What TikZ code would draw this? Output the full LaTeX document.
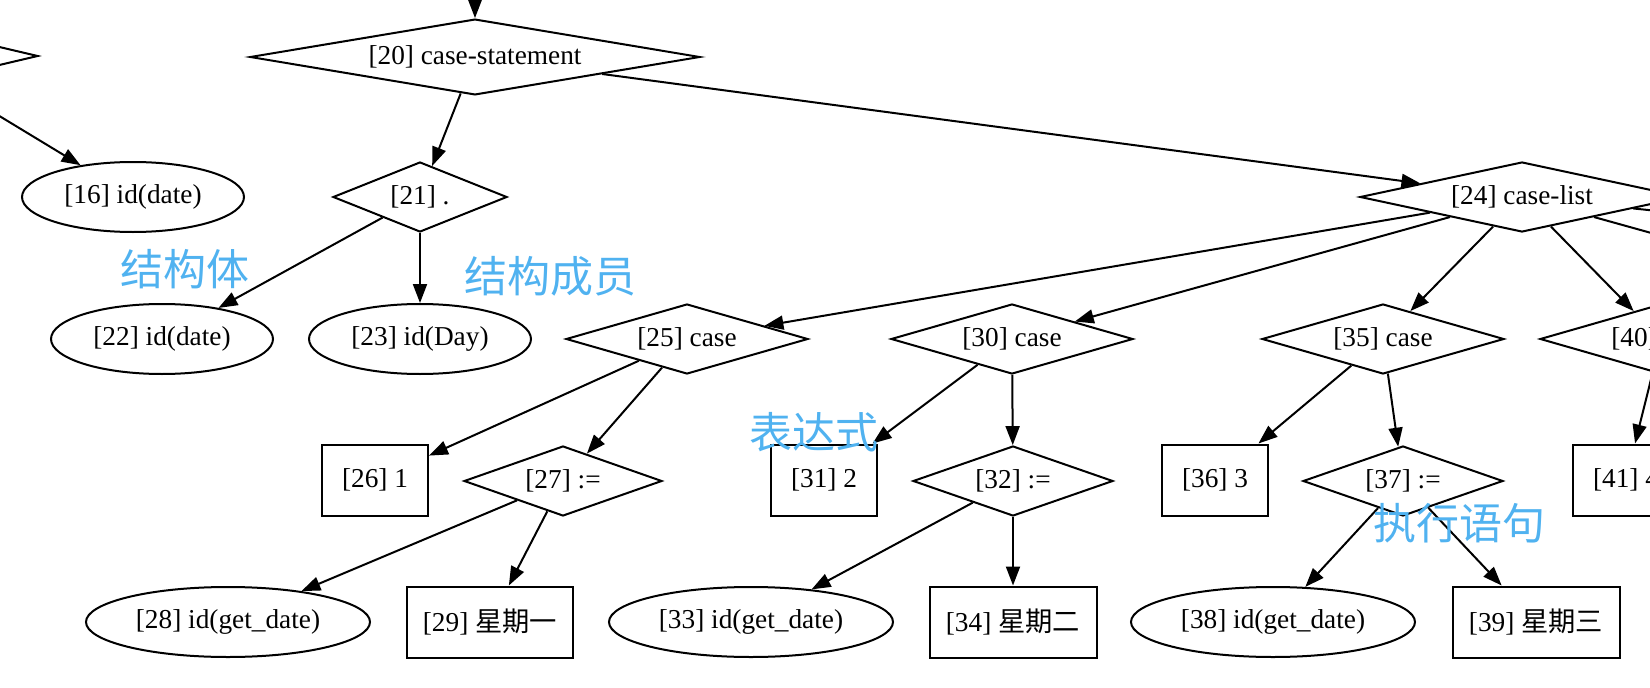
\documentclass[tikz,border=0pt]{standalone}
\usepackage{fontspec}
\setmainfont{Liberation Serif}
\newfontfamily\cjk{Noto Sans CJK SC}
\usetikzlibrary{shapes.geometric,arrows.meta}
\definecolor{annoblue}{RGB}{80,178,240}
\begin{document}
\begin{tikzpicture}[x=1pt,y=-1pt,
  every node/.style={font=\fontsize{27.3}{32}\selectfont, inner sep=0pt, line width=2pt},
  dia/.style={draw, diamond, aspect=4, minimum height=70pt},
  ell/.style={draw, ellipse, minimum height=70pt},
  box/.style={draw, rectangle, minimum height=71pt},
  edge/.style={line width=2pt, -{Triangle[length=19pt,width=14pt]}},
  anno/.style={font=\cjk\fontsize{43}{48}\selectfont, text=annoblue}
]
\useasboundingbox (0,0) rectangle (1650,688);
\clip (0,0) rectangle (1650,688);

% nodes
\node[dia, minimum width=290pt, minimum height=69pt] (n15) at (-107,56) {};
\node[dia, minimum width=450pt, minimum height=69pt] (n20) at (475,57) {[20] case-statement};
\node[ell, minimum width=222pt] (n16) at (133,197) {[16] id(date)};
\node[dia, minimum width=174pt] (n21) at (420,197) {[21] .};
\node[dia, minimum width=324pt] (n24) at (1522,197) {[24] case-list};
\node[ell, minimum width=222pt] (n22) at (162,339) {[22] id(date)};
\node[ell, minimum width=222pt] (n23) at (420,339) {[23] id(Day)};
\node[dia, minimum width=242pt] (n25) at (687,339) {[25] case};
\node[dia, minimum width=242pt] (n30) at (1012,339) {[30] case};
\node[dia, minimum width=242pt] (n35) at (1383,339) {[35] case};
\node[dia, minimum width=242pt] (n40) at (1661,339) {[40] case};
\node[box, minimum width=106pt] (n26) at (375,480) {[26] 1};
\node[dia, minimum width=198pt] (n27) at (563,481) {[27] :=};
\node[box, minimum width=106pt] (n31) at (824,480) {[31] 2};
\node[dia, minimum width=200pt] (n32) at (1013,481) {[32] :=};
\node[box, minimum width=106pt] (n36) at (1215,480) {[36] 3};
\node[dia, minimum width=200pt] (n37) at (1403,481) {[37] :=};
\node[box, minimum width=106pt] (n41) at (1626,480) {[41] 4};
\node[ell, minimum width=284pt] (n28) at (228,622) {[28] id(get\_date)};
\node[box, minimum width=166pt] (n29) at (490,622) {[29] {\cjk 星期一}};
\node[ell, minimum width=284pt] (n33) at (751,622) {[33] id(get\_date)};
\node[box, minimum width=167pt] (n34) at (1013,622) {[34] {\cjk 星期二}};
\node[ell, minimum width=284pt] (n38) at (1273,622) {[38] id(get\_date)};
\node[box, minimum width=167pt] (n39) at (1536,622) {[39] {\cjk 星期三}};

% free ends
\coordinate (top20) at (475,-30);
\coordinate (l16) at (-60,80);
\coordinate (r45) at (2032,339);
\coordinate (r50) at (2900,339);

% edges
\draw[edge] (top20) -- (n20);
\draw[edge] (l16) -- (n16);
\draw[edge] (n20) -- (n21);
\draw[edge] (n20) -- (n24);
\draw[edge] (n21) -- (n22);
\draw[edge] (n21) -- (n23);
\draw[edge] (n24) -- (n25);
\draw[edge] (n24) -- (n30);
\draw[edge] (n24) -- (n35);
\draw[edge] (n24) -- (n40);
\draw[edge] (n24) -- (r45);
\draw[edge] (n24) -- (r50);
\draw[edge] (n25) -- (n26);
\draw[edge] (n25) -- (n27);
\draw[edge] (n27) -- (n28);
\draw[edge] (n27) -- (n29);
\draw[edge] (n30) -- (n31);
\draw[edge] (n30) -- (n32);
\draw[edge] (n32) -- (n33);
\draw[edge] (n32) -- (n34);
\draw[edge] (n35) -- (n36);
\draw[edge] (n35) -- (n37);
\draw[edge] (n37) -- (n38);
\draw[edge] (n37) -- (n39);
\draw[edge] (n40) -- (n41);

% annotations
\node[anno] (a1) at (185,269) {结构体};
\node[anno] (a2) at (550,276) {结构成员};
\node[anno] (a3) at (814,432) {表达式};
\node[anno] (a4) at (1459,523) {执行语句};
\end{tikzpicture}
\end{document}
